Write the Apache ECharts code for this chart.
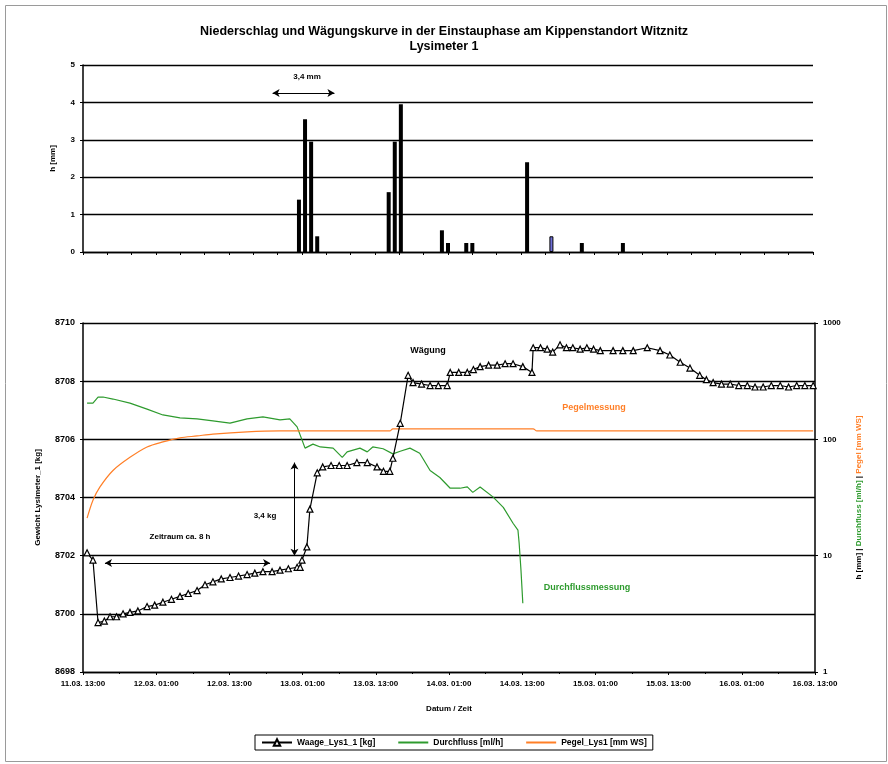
<!DOCTYPE html>
<html>
<head>
<meta charset="utf-8">
<script src="https://cdn.jsdelivr.net/npm/echarts@6/dist/echarts.min.js"></script>
<style>html,body{margin:0;padding:0;background:#fff}#c{width:888px;height:764px}</style>
</head>
<body>
<div id="c"></div>
<script>
// ---------- data ----------
const startTime = '2003-03-11 13:00';
const endTime = '2003-03-16 13:00';
const xTickLabels = ['11.03. 13:00','12.03. 01:00','12.03. 13:00','13.03. 01:00','13.03. 13:00','14.03. 01:00','14.03. 13:00','15.03. 01:00','15.03. 13:00','16.03. 01:00','16.03. 13:00'];
const leftTicks = [8698, 8700, 8702, 8704, 8706, 8708, 8710];
const rightTicks = [1, 10, 100, 1000];
const rainTicks = [0, 1, 2, 3, 4, 5];

// Niederschlag h [mm]
const rainTimes = ['2003-03-13 00:30','2003-03-13 01:30','2003-03-13 02:30','2003-03-13 03:30',
  '2003-03-13 15:15','2003-03-13 16:15','2003-03-13 17:15',
  '2003-03-14 00:00','2003-03-14 01:00','2003-03-14 04:00','2003-03-14 05:00',
  '2003-03-14 14:00','2003-03-14 18:00','2003-03-14 23:00','2003-03-15 05:45'];
const rainValues = [1.4, 3.55, 2.95, 0.42, 1.6, 2.95, 3.95, 0.58, 0.24, 0.24, 0.24, 2.4, 0.42, 0.24, 0.24];
const rainHighlightIndex = 12;

// Waage_Lys1_1 [kg]
const weightTimes = ['2003-03-11 13:40','2003-03-11 14:38','2003-03-11 15:28','2003-03-11 16:30','2003-03-11 17:26','2003-03-11 18:30','2003-03-11 19:34','2003-03-11 20:42','2003-03-11 22:00','2003-03-11 23:30',
  '2003-03-12 00:45','2003-03-12 02:06','2003-03-12 03:30','2003-03-12 04:54','2003-03-12 06:15','2003-03-12 07:42','2003-03-12 09:00','2003-03-12 10:18','2003-03-12 11:40','2003-03-12 13:06',
  '2003-03-12 14:30','2003-03-12 15:54','2003-03-12 17:10','2003-03-12 18:30','2003-03-12 20:00','2003-03-12 21:18','2003-03-12 22:40','2003-03-13 00:06','2003-03-13 00:36','2003-03-13 00:54',
  '2003-03-13 01:42','2003-03-13 02:12','2003-03-13 03:24','2003-03-13 04:18','2003-03-13 05:40','2003-03-13 07:00','2003-03-13 08:18','2003-03-13 09:54','2003-03-13 11:36','2003-03-13 13:12',
  '2003-03-13 14:15','2003-03-13 15:18','2003-03-13 15:48','2003-03-13 17:00','2003-03-13 18:18','2003-03-13 19:06','2003-03-13 20:30','2003-03-13 21:54','2003-03-13 23:15','2003-03-14 00:42',
  '2003-03-14 01:12','2003-03-14 02:36','2003-03-14 04:00','2003-03-14 05:00','2003-03-14 06:06','2003-03-14 07:30','2003-03-14 08:54','2003-03-14 10:12','2003-03-14 11:30','2003-03-14 13:06',
  '2003-03-14 14:36','2003-03-14 14:48','2003-03-14 16:00','2003-03-14 17:06','2003-03-14 18:00','2003-03-14 19:12','2003-03-14 20:15','2003-03-14 21:18','2003-03-14 22:30','2003-03-14 23:36',
  '2003-03-15 00:42','2003-03-15 01:48','2003-03-15 03:54','2003-03-15 05:30','2003-03-15 07:12','2003-03-15 09:30','2003-03-15 11:36','2003-03-15 13:12','2003-03-15 14:54','2003-03-15 16:30',
  '2003-03-15 18:06','2003-03-15 19:12','2003-03-15 20:18','2003-03-15 21:40','2003-03-15 23:06','2003-03-16 00:30','2003-03-16 01:54','2003-03-16 03:10','2003-03-16 04:30','2003-03-16 05:50',
  '2003-03-16 07:18','2003-03-16 08:40','2003-03-16 10:00','2003-03-16 11:20','2003-03-16 12:42'];
const weightValues = [8702.1,8701.85,8699.7,8699.75,8699.9,8699.9,8700.0,8700.05,8700.1,8700.25,
  8700.3,8700.4,8700.5,8700.6,8700.7,8700.8,8701.0,8701.1,8701.2,8701.25,
  8701.3,8701.35,8701.4,8701.45,8701.45,8701.5,8701.55,8701.6,8701.6,8701.85,
  8702.3,8703.6,8704.85,8705.05,8705.1,8705.1,8705.1,8705.2,8705.2,8705.05,
  8704.9,8704.9,8705.35,8706.55,8708.2,8707.95,8707.9,8707.85,8707.85,8707.85,
  8708.3,8708.3,8708.3,8708.4,8708.5,8708.55,8708.55,8708.6,8708.6,8708.5,
  8708.3,8709.15,8709.15,8709.1,8709.0,8709.25,8709.15,8709.15,8709.1,8709.15,
  8709.1,8709.05,8709.05,8709.05,8709.05,8709.15,8709.05,8708.9,8708.65,8708.45,
  8708.2,8708.05,8707.95,8707.9,8707.9,8707.85,8707.85,8707.8,8707.8,8707.85,
  8707.85,8707.8,8707.85,8707.85,8707.85];

// Durchfluss [ml/h]
const flowTimes = ['2003-03-11 13:40','2003-03-11 14:38','2003-03-11 15:28','2003-03-11 16:17','2003-03-11 17:55','2003-03-11 20:42','2003-03-11 23:30','2003-03-12 02:06','2003-03-12 04:54','2003-03-12 07:42',
  '2003-03-12 10:18','2003-03-12 13:06','2003-03-12 15:54','2003-03-12 18:30','2003-03-12 21:18','2003-03-12 22:54','2003-03-13 00:06','2003-03-13 00:54','2003-03-13 01:24','2003-03-13 02:42',
  '2003-03-13 03:54','2003-03-13 06:00','2003-03-13 07:30','2003-03-13 08:18','2003-03-13 10:24','2003-03-13 11:36','2003-03-13 12:30','2003-03-13 14:12','2003-03-13 15:48','2003-03-13 17:00',
  '2003-03-13 18:36','2003-03-13 20:12','2003-03-13 21:54','2003-03-13 23:30','2003-03-14 01:12','2003-03-14 02:48','2003-03-14 04:00','2003-03-14 04:54','2003-03-14 06:06','2003-03-14 08:12',
  '2003-03-14 09:54','2003-03-14 11:30','2003-03-14 12:18','2003-03-14 12:30','2003-03-14 12:48','2003-03-14 13:06'];
const flowValues = [205,205,231,231,222,205,182,162,153,150,
  144,138,150,156,147,150,128,99,84,91,
  86,84,70,78,84,78,86,83,75,79,
  84,76,54,47,38,38,39,35,39,32,
  26,19,16.6,12.8,7.5,3.9];

// Pegel_Lys1 [mm WS]
const levelTimes = ['2003-03-11 13:40','2003-03-11 14:38','2003-03-11 15:47','2003-03-11 17:55','2003-03-11 20:42','2003-03-11 23:30','2003-03-12 02:06','2003-03-12 04:54','2003-03-12 07:42','2003-03-12 10:18',
  '2003-03-12 15:54','2003-03-12 21:18','2003-03-13 15:18','2003-03-13 15:48','2003-03-14 14:48','2003-03-14 15:24','2003-03-16 12:42'];
const levelValues = [21,30,39,54,70,86,95,103,107,111,116,118,118,123,123,118,118];

// annotation anchors (data coordinates)
const rainArrow = {from: '2003-03-12 20:10', to: '2003-03-13 06:20', value: 4.25};
const kgArrow = {time: '2003-03-12 23:40', from: 8702.0, to: 8705.2};
const periodArrow = {from: '2003-03-11 16:36', to: '2003-03-12 19:40', value: 8701.75};

// ---------- helpers ----------
const ms = s => Date.parse(s.replace(' ', 'T') + ':00Z');
const pad = n => String(n).padStart(2, '0');
const fmt = v => { const d = new Date(v); return pad(d.getUTCDate()) + '.' + pad(d.getUTCMonth() + 1) + '. ' + pad(d.getUTCHours()) + ':' + pad(d.getUTCMinutes()); };
const zip = (t, v) => t.map((s, i) => [ms(s), v[i]]);
const H = 3600 * 1000;
const xMin = ms(startTime), xMax = ms(endTime);
const FONT = 'Liberation Sans';
const lbl = (size) => ({fontFamily: FONT, fontWeight: 'bold', fontSize: size, color: '#000'});
const GREEN = '#2e9b2e', ORANGE = '#ff7f27';

const chart = echarts.init(document.getElementById('c'), null, {renderer: 'canvas'});
const rainData = zip(rainTimes, rainValues).map((p, i) => i === rainHighlightIndex
  ? {value: p, itemStyle: {color: '#7070d8', borderColor: '#000', borderWidth: 1}}
  : {value: p});

const option = {
  animation: false,
  backgroundColor: '#fff',
  title: {
    text: 'Niederschlag und Wägungskurve in der Einstauphase am Kippenstandort Witznitz\nLysimeter 1',
    left: 'center', top: 19,
    textStyle: {fontFamily: FONT, fontWeight: 'bold', fontSize: 12.5, lineHeight: 15, color: '#000'}
  },
  legend: {
    data: [
      {name: 'Waage_Lys1_1 [kg]'},
      {name: 'Durchfluss [ml/h]', itemStyle: {opacity: 0}},
      {name: 'Pegel_Lys1 [mm WS]', itemStyle: {opacity: 0}}
    ],
    left: 255, top: 735,
    borderColor: '#000', borderWidth: 1, borderRadius: 0,
    padding: [3, 6], itemGap: 22, itemWidth: 30, itemHeight: 8,
    textStyle: lbl(8.5)
  },
  grid: [
    {left: 83, right: 75, top: 65, height: 187},
    {left: 83, right: 73, top: 323, height: 349}
  ],
  xAxis: [
    {type: 'value', gridIndex: 0, min: xMin, max: xMax, interval: 4 * H,
      axisLine: {show: true, lineStyle: {color: '#000', width: 1.3}},
      axisTick: {show: true, length: 3, lineStyle: {color: '#000'}},
      axisLabel: {show: false}, splitLine: {show: false}},
    {type: 'value', gridIndex: 1, min: xMin, max: xMax, interval: 12 * H,
      name: 'Datum / Zeit', nameLocation: 'middle', nameGap: 33, nameTextStyle: lbl(8),
      axisLine: {show: true, onZero: false, lineStyle: {color: '#000', width: 1.3}},
      axisTick: {show: true, length: 3, lineStyle: {color: '#000'}},
      minorTick: {show: true, splitNumber: 2, length: 2, lineStyle: {color: '#000'}},
      axisLabel: Object.assign(lbl(8), {margin: 8, formatter: v => xTickLabels[Math.round((v - xMin) / (12 * H))] || fmt(v), showMinLabel: true, showMaxLabel: true}),
      splitLine: {show: false}}
  ],
  yAxis: [
    {type: 'value', gridIndex: 0, min: rainTicks[0], max: rainTicks[rainTicks.length - 1], interval: 1,
      name: 'h [mm]', nameLocation: 'middle', nameGap: 26, nameRotate: 90, nameTextStyle: lbl(8),
      axisLine: {show: true, lineStyle: {color: '#000', width: 1.5}},
      axisTick: {show: true, length: 3, lineStyle: {color: '#000'}},
      axisLabel: Object.assign(lbl(8), {margin: 8, formatter: v => String(v)}),
      splitLine: {show: true, lineStyle: {color: '#000', width: 1.4}}},
    {type: 'value', gridIndex: 1, min: leftTicks[0], max: leftTicks[leftTicks.length - 1], interval: 2,
      name: 'Gewicht Lysimeter_1 [kg]', nameLocation: 'middle', nameGap: 41, nameRotate: 90, nameTextStyle: lbl(8),
      axisLine: {show: true, lineStyle: {color: '#000', width: 1.5}},
      axisTick: {show: true, length: 3, lineStyle: {color: '#000'}},
      axisLabel: Object.assign(lbl(9), {margin: 8, formatter: v => String(v)}),
      splitLine: {show: true, lineStyle: {color: '#000', width: 1.4}}},
    {type: 'log', logBase: 10, gridIndex: 1, position: 'right', min: rightTicks[0], max: rightTicks[rightTicks.length - 1],
      name: '{k|h [mm] | }{g|Durchfluss [ml/h]}{k| | }{o|Pegel [mm WS]}', nameLocation: 'middle', nameGap: 40, nameRotate: 90,
      nameTextStyle: {fontFamily: FONT, fontWeight: 'bold', fontSize: 8,
        rich: {k: lbl(8), g: Object.assign(lbl(8), {color: GREEN}), o: Object.assign(lbl(8), {color: ORANGE})}},
      axisLine: {show: true, lineStyle: {color: '#000', width: 1.5}},
      axisTick: {show: true, length: 3, lineStyle: {color: '#000'}},
      axisLabel: Object.assign(lbl(8), {margin: 8, formatter: v => String(Math.round(v))}),
      splitLine: {show: false}}
  ],
  series: [
    {name: 'Niederschlag', type: 'bar', xAxisIndex: 0, yAxisIndex: 0, barWidth: 4,
      itemStyle: {color: '#000'}, data: rainData, silent: true,
      markLine: {silent: true, symbol: ['arrow', 'arrow'], symbolSize: [6, 7], label: {show: false},
        lineStyle: {color: '#000', type: 'solid', width: 1},
        data: [[{coord: [ms(rainArrow.from), rainArrow.value]}, {coord: [ms(rainArrow.to), rainArrow.value]}]]}},
    {name: 'Durchfluss [ml/h]', type: 'line', xAxisIndex: 1, yAxisIndex: 2, data: zip(flowTimes, flowValues),
      showSymbol: false, symbol: 'none', lineStyle: {color: GREEN, width: 1.2}, itemStyle: {color: GREEN}},
    {name: 'Pegel_Lys1 [mm WS]', type: 'line', xAxisIndex: 1, yAxisIndex: 2, data: zip(levelTimes, levelValues),
      smooth: 0.3, showSymbol: false, symbol: 'none', lineStyle: {color: ORANGE, width: 1.2}, itemStyle: {color: ORANGE}},
    {name: 'Waage_Lys1_1 [kg]', type: 'line', xAxisIndex: 1, yAxisIndex: 1, data: zip(weightTimes, weightValues),
      symbol: 'triangle', symbolSize: 6, showSymbol: true,
      lineStyle: {color: '#000', width: 1.2}, itemStyle: {color: '#fff', borderColor: '#000', borderWidth: 1.2},
      markLine: {silent: true, symbol: ['arrow', 'arrow'], symbolSize: [6, 7], label: {show: false},
        lineStyle: {color: '#000', type: 'solid', width: 1},
        data: [
          [{coord: [ms(kgArrow.time), kgArrow.from]}, {coord: [ms(kgArrow.time), kgArrow.to]}],
          [{coord: [ms(periodArrow.from), periodArrow.value]}, {coord: [ms(periodArrow.to), periodArrow.value]}]
        ]}}
  ],
  graphic: [
    {type: 'rect', left: 3, top: 3, shape: {width: 881, height: 756}, style: {fill: 'none', stroke: '#9a9a9a', lineWidth: 1}, silent: true, z: -1},
    {type: 'text', x: 307, y: 77, style: {text: '3,4 mm', align: 'center', verticalAlign: 'middle', font: 'bold 8px "Liberation Sans"', fill: '#000'}},
    {type: 'text', x: 265, y: 516, style: {text: '3,4 kg', align: 'center', verticalAlign: 'middle', font: 'bold 8px "Liberation Sans"', fill: '#000'}},
    {type: 'text', x: 180, y: 537, style: {text: 'Zeitraum ca. 8 h', align: 'center', verticalAlign: 'middle', font: 'bold 8px "Liberation Sans"', fill: '#000'}},
    {type: 'text', x: 428, y: 351, style: {text: 'Wägung', align: 'center', verticalAlign: 'middle', font: 'bold 9px "Liberation Sans"', fill: '#000'}},
    {type: 'text', x: 594, y: 408, style: {text: 'Pegelmessung', align: 'center', verticalAlign: 'middle', font: 'bold 9px "Liberation Sans"', fill: ORANGE}},
    {type: 'text', x: 587, y: 588, style: {text: 'Durchflussmessung', align: 'center', verticalAlign: 'middle', font: 'bold 9px "Liberation Sans"', fill: GREEN}}
  ]
};
chart.setOption(option);
</script>
</body>
</html>
